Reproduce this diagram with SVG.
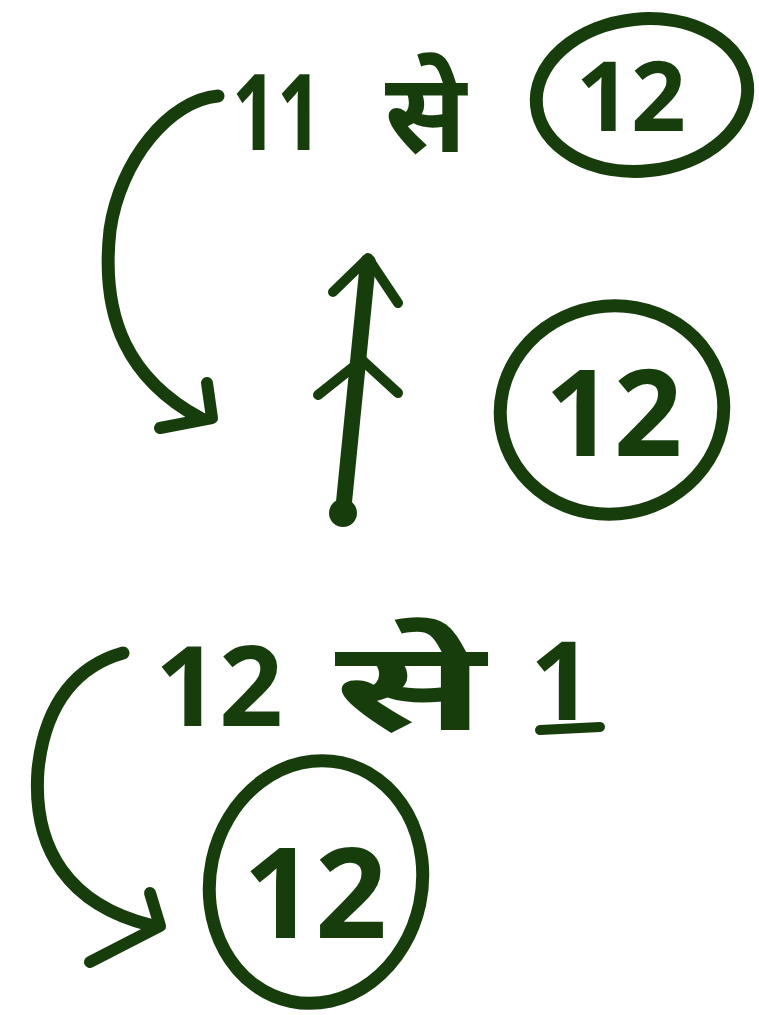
<svg xmlns="http://www.w3.org/2000/svg" width="759" height="1015" viewBox="0 0 759 1015">
<style>
.ink{fill:none;stroke:#173d0c;stroke-linecap:round;stroke-linejoin:round}
.t{fill:#173d0c;font-family:"Noto Sans","Noto Sans Devanagari","Lohit Devanagari",sans-serif;font-weight:bold}
</style>
<rect width="759" height="1015" fill="#ffffff"/>
<g id="connectors">
  <path class="ink" stroke-width="13" d="M218 96 C170 100 120 160 110 230 C100 320 130 380 200 418"/>
  <path class="ink" stroke-width="12" d="M160 428 L212 418 L207 383"/>
  <path class="ink" stroke-width="16" d="M343 512 L368 262"/>
  <path class="ink" stroke-width="10" d="M333 292 L368 258 L398 303"/>
  <path class="ink" stroke-width="10" d="M318 395 L362 360 L398 393"/>
  <circle cx="343" cy="513" r="14" fill="#173d0c"/>
  <path class="ink" stroke-width="13" d="M123 653 C80 665 45 700 38 770 C32 850 70 905 150 925"/>
  <path class="ink" stroke-width="12" d="M150 893 L160 926 L90 962"/>
</g>
<g id="top-row">
  <text class="t" x="232" y="150" font-size="105" textLength="90" lengthAdjust="spacingAndGlyphs">11</text>
  <text class="t" x="385" y="152" font-size="110">से</text>
</g>
<g id="top-circle">
  <ellipse class="ink" stroke-width="13" cx="642" cy="95" rx="106" ry="76" transform="rotate(-6 642 95)"/>
  <text class="t" x="576" y="131" font-size="96">12</text>
</g>
<g id="middle-circle">
  <ellipse class="ink" stroke-width="13" cx="612" cy="410" rx="112" ry="104" transform="rotate(-10 612 410)"/>
  <text class="t" x="545" y="456" font-size="120">12</text>
</g>
<g id="bottom-row">
  <text class="t" x="155" y="726" font-size="112">12</text>
  <text class="t" x="335" y="730" font-size="125" textLength="150" lengthAdjust="spacingAndGlyphs">से</text>
  <text class="t" x="530" y="720" font-size="110">1</text>
  <path class="ink" stroke-width="10" d="M540 730 L600 727"/>
</g>
<g id="bottom-circle">
  <ellipse class="ink" stroke-width="13" cx="316" cy="882" rx="106" ry="122" transform="rotate(12 316 882)"/>
  <text class="t" x="243" y="938" font-size="126">12</text>
</g>
</svg>
